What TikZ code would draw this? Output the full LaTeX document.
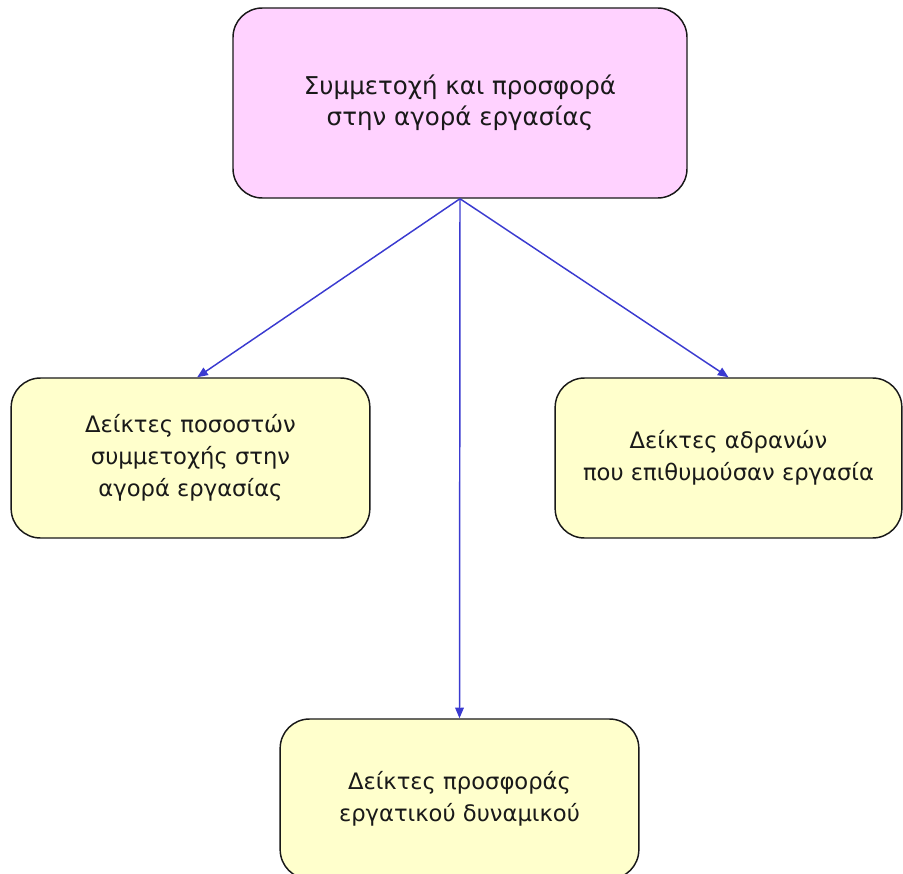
\documentclass[tikz,border=0pt]{standalone}
\usepackage{fontspec}
\setmainfont{DejaVu Sans}
\usepackage{xcolor}
\definecolor{TopPink}{HTML}{FFD2FF}
\definecolor{BoxYellow}{HTML}{FFFFCC}
\definecolor{LinkBlue}{HTML}{3A3AD0}
\usetikzlibrary{arrows.meta}

\begin{document}
\begin{tikzpicture}[
    x=0.75pt, y=-0.75pt,
    >={Triangle[length=8pt,width=6.5pt]},
    box/.style={draw=black!90,line width=1.1pt,rounded corners=22pt,
                align=center,inner sep=0pt,text=black!90},
    topbox/.style={box,fill=TopPink,minimum width=340.5pt,minimum height=142.5pt,
                   font=\fontsize{18.4}{23.3}\selectfont},
    ind/.style={box,fill=BoxYellow,minimum width=269pt,minimum height=120pt,
                font=\fontsize{17}{23.8}\selectfont},
    lnk/.style={->,LinkBlue,line width=1.1pt},
  ]
  \useasboundingbox (0,0) rectangle (903,874);
  \clip (0,0) rectangle (903,874);

  % ---------- boxes ----------
  \node[topbox] (part) at (460,103) {Συμμετοχή και προσφορά\\ στην αγορά εργασίας};
  \node[ind]    (rate) at (190.5,458) {Δείκτες ποσοστών\\συμμετοχής στην\\ αγορά εργασίας};
  \node[ind,minimum width=260pt] (idle) at (728.5,458) {Δείκτες αδρανών\\που επιθυμούσαν εργασία};
  \node[ind]    (supp) at (459.5,799) {Δείκτες προσφοράς\\εργατικού δυναμικού};

  % ---------- links ----------
  \draw[lnk] (part.south) -- ([xshift=5pt]rate.north);
  \draw[lnk] (part.south) -- (supp.north);
  \draw[lnk] (part.south) -- (idle.north);
\end{tikzpicture}
\end{document}
